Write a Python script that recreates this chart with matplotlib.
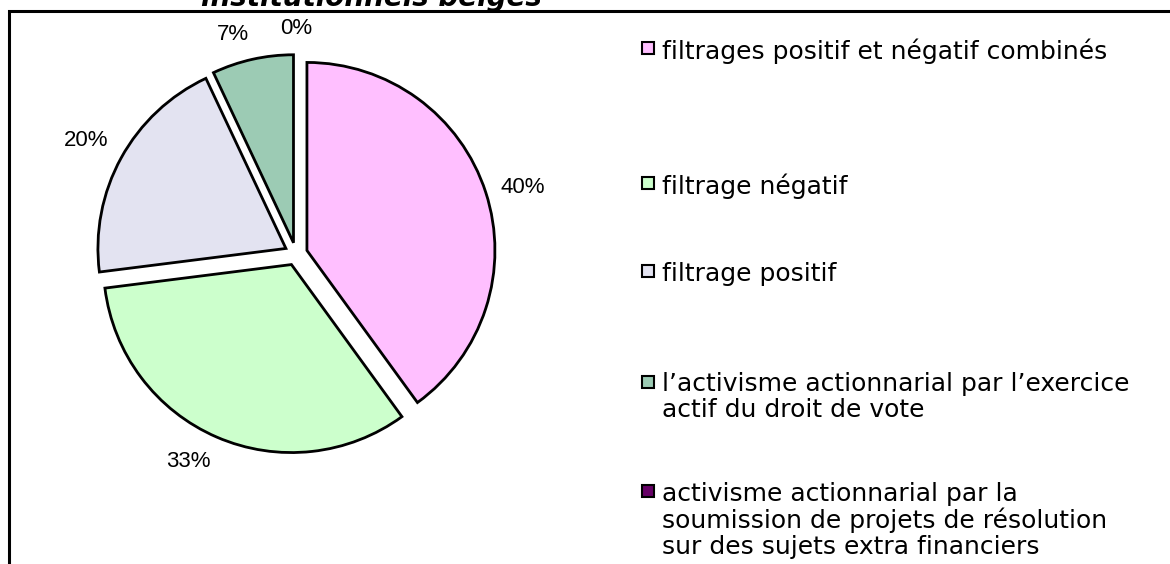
import numpy as np
import matplotlib.pyplot as plt
from matplotlib.patches import Rectangle

# parts des stratégies ISR
labels = ['filtrages positif et négatif combinés',
          'filtrage négatif',
          'filtrage positif',
          "l’activisme actionnarial par l’exercice\nactif du droit de vote",
          'activisme actionnarial par la\nsoumission de projets de résolution\nsur des sujets extra financiers']
shares = [40, 33, 20, 7, 0]
colors = ['#FFBFFF', '#CCFFCC', '#E3E3F1', '#9CCBB4', '#660066']
title = 'institutionnels belges'

W, H = 1170, 564
fig = plt.figure(figsize=(W / 100, H / 100), dpi=100)
ax = fig.add_axes([0, 0, 1, 1])

wedges, texts = ax.pie(
    shares, colors=colors, startangle=90, counterclock=False,
    center=(296, H - 254), radius=188, explode=[11.5] * len(shares),
    labels=[f'{v}%' for v in shares], labeldistance=1.08,
    wedgeprops=dict(edgecolor='black', linewidth=2),
    textprops=dict(family='Liberation Sans', fontsize=16))

# ancrage des étiquettes côté camembert, comme dans Excel
for w, t in zip(wedges, texts):
    a = np.deg2rad((w.theta1 + w.theta2) / 2)
    c, s = np.cos(a), np.sin(a)
    t.set_ha('left' if c > 0.2 else 'right' if c < -0.2 else 'center')
    t.set_va('bottom' if s > 0.45 else 'top' if s < -0.45 else 'center')
# la part nulle ne laisse pas de trait
wedges[-1].set_linewidth(0)

ax.set_xlim(0, W)
ax.set_ylim(0, H)
ax.set_aspect('equal', adjustable='box')
ax.axis('off')

# cadre du graphique (coupé à droite et en bas)
ax.add_patch(Rectangle((9, -20), W + 50, H - 11 + 20, fill=False,
                       edgecolor='black', linewidth=2.2, clip_on=False))

# titre (partiellement visible)
ax.text(371, H - 6, title, ha='center', va='baseline', fontsize=20,
        fontweight='bold', fontstyle='italic', family='DejaVu Sans')

# légende
baselines = [57, 192, 280, 391, 500]
for lab, c, yb in zip(labels, colors, baselines):
    ax.add_patch(Rectangle((642, H - yb + 3), 12, 12, facecolor=c,
                           edgecolor='black', linewidth=1.5))
    ax.text(662, H - yb + 18.5, lab, ha='left', va='top', fontsize=18,
            family='DejaVu Sans', linespacing=1.1)

fig.savefig('out.png', dpi=100)
